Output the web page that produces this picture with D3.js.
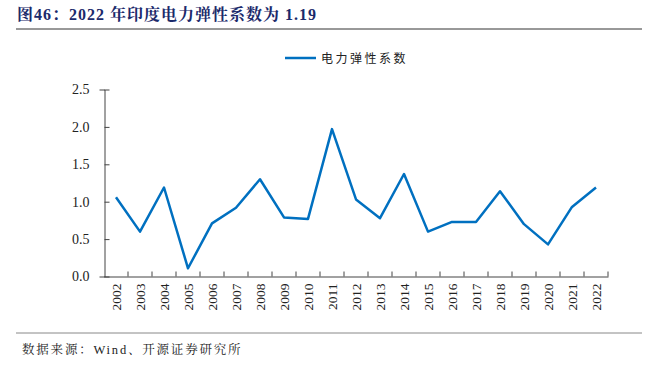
<!DOCTYPE html>
<html>
<head>
<meta charset="utf-8">
<script src="https://cdn.jsdelivr.net/npm/d3@7"></script>
<style>
  body { margin: 0; background: #fff; }
</style>
</head>
<body>
<svg id="chart"></svg>
<script>
// Data
const years = ["2002","2003","2004","2005","2006","2007","2008","2009","2010","2011","2012",
               "2013","2014","2015","2016","2017","2018","2019","2020","2021","2022"];
const elasticity = [1.06, 0.60, 1.19, 0.11, 0.71, 0.92, 1.30, 0.79, 0.77, 1.97, 1.03,
                    0.78, 1.37, 0.60, 0.73, 0.73, 1.14, 0.70, 0.43, 0.93, 1.19];
const yTicks = [0, 0.5, 1.0, 1.5, 2.0, 2.5];
const seriesName = "电力弹性系数";

const width = 657, height = 365;
const svg = d3.select("#chart").attr("width", width).attr("height", height);

const serif = "'Liberation Serif', 'Times New Roman', 'Noto Serif CJK SC', 'Noto Sans CJK SC', serif";

// Title
svg.append("text")
    .attr("x", 17).attr("y", 20)
    .attr("font-family", serif)
    .attr("font-weight", "bold")
    .attr("font-size", 16)
    .attr("letter-spacing", 1)
    .attr("fill", "#1b2a6b")
    .text("图46：2022 年印度电力弹性系数为 1.19");

svg.append("line")
    .attr("x1", 16).attr("x2", 642).attr("y1", 29).attr("y2", 29)
    .attr("stroke", "#333").attr("stroke-width", 1);

// Scales
const x = d3.scaleBand().domain(years).range([104, 608]);
const y = d3.scaleLinear().domain([0, 2.5]).range([276.5, 89.5]);

// Y axis
const yAxis = svg.append("g")
    .attr("transform", "translate(104.5,0)")
    .call(d3.axisLeft(y).tickValues(yTicks).tickFormat(d3.format(".1f")).tickSize(5));
yAxis.select(".domain").attr("stroke", "#444");
yAxis.selectAll(".tick line").attr("stroke", "#444").attr("x2", 5).attr("x1", 0);
yAxis.selectAll(".tick text")
    .attr("x", -15)
    .attr("font-family", serif).attr("font-size", 14).attr("fill", "#222");

// X axis
const xAxis = svg.append("g")
    .attr("transform", "translate(0,276.5)")
    .call(d3.axisBottom(x).tickSize(0).tickSizeOuter(0));
xAxis.select(".domain").attr("stroke", "#444");
xAxis.selectAll(".tick text")
    .attr("transform", "rotate(-90)")
    .attr("x", -7).attr("y", 0).attr("dy", "0.35em")
    .attr("text-anchor", "end")
    .attr("font-family", serif).attr("font-size", 13.5).attr("fill", "#222");
// tick marks between categories
svg.append("g").selectAll("line")
    .data(years)
    .join("line")
    .attr("x1", d => x(d) + x.bandwidth())
    .attr("x2", d => x(d) + x.bandwidth())
    .attr("y1", 276.5).attr("y2", 271.5)
    .attr("stroke", "#444");

// Line
const line = d3.line()
    .x((d, i) => x(years[i]) + x.bandwidth() / 2)
    .y(d => y(d));
svg.append("path")
    .datum(elasticity)
    .attr("d", line)
    .attr("fill", "none")
    .attr("stroke", "#0070c0")
    .attr("stroke-width", 2.5)
    .attr("stroke-linejoin", "round");

// Legend
svg.append("line")
    .attr("x1", 285).attr("x2", 316).attr("y1", 58).attr("y2", 58)
    .attr("stroke", "#0070c0").attr("stroke-width", 2.5);
svg.append("text")
    .attr("x", 321).attr("y", 62.5)
    .attr("font-family", "'Noto Sans CJK SC', sans-serif")
    .attr("font-size", 12)
    .attr("letter-spacing", 2.5)
    .attr("fill", "#222")
    .text(seriesName);

// Footer
svg.append("line")
    .attr("x1", 16).attr("x2", 642).attr("y1", 333).attr("y2", 333)
    .attr("stroke", "#888").attr("stroke-width", 1);
svg.append("text")
    .attr("x", 22).attr("y", 354)
    .attr("font-family", serif)
    .attr("font-size", 12.5)
    .attr("letter-spacing", 1.8)
    .attr("fill", "#222")
    .text("数据来源：Wind、开源证券研究所");
</script>
</body>
</html>
